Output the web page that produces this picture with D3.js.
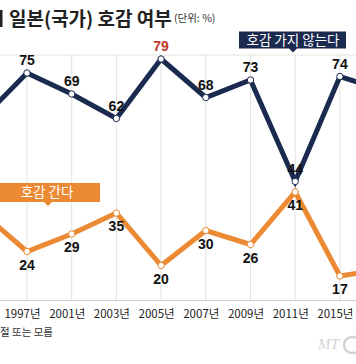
<!DOCTYPE html>
<html><head><meta charset="utf-8">
<script src="https://cdn.jsdelivr.net/npm/d3@7"></script>
<style>
html,body{margin:0;padding:0;background:#fff;overflow:hidden;}
svg{display:block;}
</style></head>
<body>
<script>
const years = ["1995년","1997년","2001년","2003년","2005년","2007년","2009년","2011년","2015년","2016년"];
const dislike = [62,75,69,62,79,68,73,44,74,70];
const like = [35,24,29,35,20,30,26,41,17,19];
const labelDislike = "호감 가지 않는다";
const labelLike = "호감 간다";
const title = "일본(국가) 호감 여부";
const unit = "(단위: %)";
const note = "절 또는 모름";

const W = 356, H = 364;
const navy = "#1b2a4f", orange = "#ec8a33";
const svg = d3.select("body").append("svg").attr("width", W).attr("height", H);

const x = d3.scalePoint().domain(years).range([-17.7, 384.6]);
const y = d3.scaleLinear().domain([0, 100]).range([335.5, -14.5]);
const visible = (d) => x(d) >= 0 && x(d) <= W;

// title
svg.append("rect").attr("x",0).attr("y",10).attr("width",2.5).attr("height",17).attr("fill","#222");
svg.append("text").attr("x",9).attr("y",25.5).text(title)
  .attr("font-family","'Noto Sans CJK KR'").attr("font-weight",700).attr("font-size",19).attr("fill","#222");
svg.append("text").attr("x",174).attr("y",22).text(unit)
  .attr("font-family","'Noto Sans CJK KR'").attr("font-size",10.5).attr("fill","#333");

// grid
svg.append("line").attr("x1",0).attr("x2",W).attr("y1",55).attr("y2",55).attr("stroke","#e4e4e4").attr("stroke-width",1);
svg.append("g").selectAll("line").data(years).join("line")
  .attr("x1",d=>x(d)).attr("x2",d=>x(d)).attr("y1",55).attr("y2",300)
  .attr("stroke","#e2e2e2").attr("stroke-width",1);

// x axis
const ax = svg.append("g").attr("transform","translate(0,300)")
  .call(d3.axisBottom(x).tickValues(years.filter(visible)).tickSize(0).tickPadding(0));
ax.select(".domain").attr("stroke","#cfcfcf").attr("d","M0,0.5H"+W);
ax.selectAll("text").attr("dx",-5).attr("dy",18)
  .attr("font-family","'Noto Sans CJK KR'").attr("font-size",11.5).attr("fill","#222");

// lines
const line = d3.line().x((d,i)=>x(years[i])).y(d=>y(d));
svg.append("path").datum(like).attr("d",line).attr("fill","none")
  .attr("stroke",orange).attr("stroke-width",5).attr("stroke-linejoin","miter");
svg.append("path").datum(dislike).attr("d",line).attr("fill","none")
  .attr("stroke",navy).attr("stroke-width",5).attr("stroke-linejoin","miter");

// markers
svg.append("g").selectAll("circle").data(like).join("circle")
  .attr("cx",(d,i)=>x(years[i])).attr("cy",d=>y(d)).attr("r",3.2)
  .attr("fill","#fff").attr("stroke",orange).attr("stroke-width",1);
svg.append("g").selectAll("circle").data(dislike).join("circle")
  .attr("cx",(d,i)=>x(years[i])).attr("cy",d=>y(d)).attr("r",3.2)
  .attr("fill","#fff").attr("stroke",navy).attr("stroke-width",1);

// value labels (only for points inside the view)
const lf = "'Liberation Sans Narrow','Liberation Sans',Arial,sans-serif";
const dl = dislike.map((v,i)=>({v, k: years[i]})).filter(d=>visible(d.k));
const ll = like.map((v,i)=>({v, k: years[i]})).filter(d=>visible(d.k));
svg.append("g").selectAll("text").data(dl).join("text")
  .attr("x",d=>x(d.k)).attr("y",d=>y(d.v)-8)
  .attr("text-anchor","middle").attr("font-family",lf).attr("font-size",14).attr("font-weight",700)
  .attr("fill",d=>d.v===79?"#c0392b":"#111").text(d=>d.v);
svg.append("g").selectAll("text").data(ll).join("text")
  .attr("x",d=>x(d.k)).attr("y",d=>y(d.v)+18)
  .attr("text-anchor","middle").attr("font-family",lf).attr("font-size",14).attr("font-weight",700)
  .attr("fill","#111").text(d=>d.v);

// legend callouts
function callout(x0, x1, y0, y1, px, color, txt, tx) {
  svg.append("path")
    .attr("d",`M${x0},${y0}H${x1}V${y1}H${px+4}L${px},${y1+4}L${px-4},${y1}H${x0}Z`)
    .attr("fill",color);
  svg.append("text").attr("x",tx).attr("y",(y0+y1)/2+4.5).attr("text-anchor","middle")
    .attr("font-family","'Noto Sans CJK KR'").attr("font-size",13.5).attr("fill","#fff").text(txt);
}
callout(239, 346, 31.5, 48.5, 293, navy, labelDislike, 293);
callout(-20, 100, 183, 202, 48, orange, labelLike, 47);

// note
svg.append("text").attr("x",0).attr("y",336)
  .attr("font-family","'Noto Sans CJK KR'").attr("font-size",10.5).attr("fill","#333").text(note);

// watermark
svg.append("text").attr("x",318).attr("y",349)
  .attr("font-family","'Liberation Serif',serif").attr("font-style","italic").attr("font-size",15)
  .attr("fill","#d4d4d4").text("MT");
svg.append("path").attr("d","M356,338 A8,8 0 1 0 356,352").attr("fill","none").attr("stroke","#d4d4d4").attr("stroke-width",2.5);
</script>
</body></html>
